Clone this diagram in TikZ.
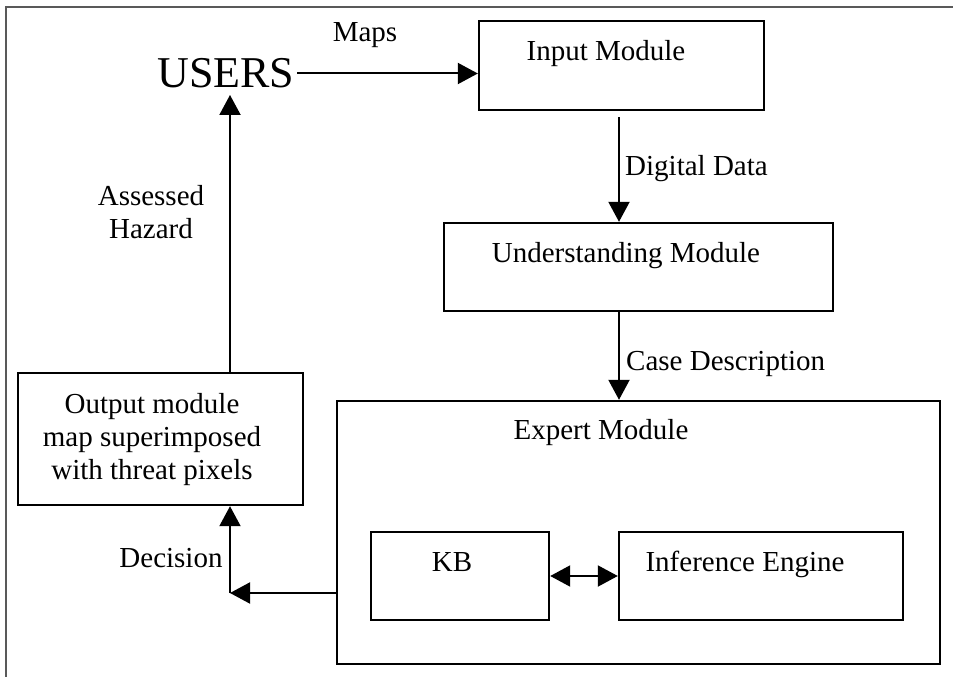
\documentclass[tikz,border=0pt]{standalone}
\usepackage{fontspec}
\setmainfont{Liberation Serif}
\usepackage{tikz}
\usetikzlibrary{arrows,arrows.meta,positioning,calc}
\definecolor{framegray}{rgb}{.35,.35,.35}
\tikzstyle{to} = [-{Triangle[length=20pt,width=21pt]},line width=2pt]
\tikzstyle{both} = [{Triangle[length=20pt,width=21pt]}-{Triangle[length=20pt,width=21pt]},line width=2pt]
\tikzstyle{modbox} = [draw,line width=2.4pt,inner sep=0pt]
\tikzstyle{txt} = [anchor=base,inner sep=0pt,font=\fontsize{29}{33}\selectfont]

\begin{document}
\begin{tikzpicture}[x=1pt,y=-1pt]
    \useasboundingbox (0,0) rectangle (953,677);
    \coordinate (Mid) at (619,0);% column of the downward arrows
    \coordinate (Up)  at (230,0);% column of the upward arrows
    \coordinate (Dec) at (230,593);

    \draw [framegray, line width=1.5pt] (6,677) -- (6,7) -- (953,7);% screenshot edge

    % the modules
    \node[modbox, minimum width=285, minimum height=89]  (inp) at (621.5,65.5) {};
    \node[modbox, minimum width=389, minimum height=88]  (und) at (638.5,267) {};
    \node[modbox, minimum width=603, minimum height=263] (exp) at (638.5,532.5) {};
    \node[modbox, minimum width=178, minimum height=88]  (kb)  at (460,576) {};
    \node[modbox, minimum width=284, minimum height=88]  (inf) at (761,576) {};
    \node[modbox, minimum width=285, minimum height=132] (out) at (160.5,439) {};

    % their texts
    \node[inner sep=2.5pt, font=\fontsize{44}{48}\selectfont] (users) at (226,73.5) {USERS};
    \node[txt] (inptxt) at (606,61) {Input Module};
    \node[txt] (undtxt) at (626,262) {Understanding Module};
    \node[txt] (exptxt) at (601,439) {Expert Module};
    \node[txt] (kbtxt)  at (452,571) {KB};
    \node[txt] (inftxt) at (745,571) {Inference Engine};
    \node[txt, anchor=center, align=center] (outtxt) at (152,440)
        {Output module\\map superimposed\\with threat pixels};

    % labels of the arrows
    \node[txt] (maps) at (365,42) {Maps};
    \node[txt, anchor=base west] (digital) at (625,175) {Digital Data};
    \node[txt, anchor=base west] (case) at (626,370) {Case Description};
    \node[txt, anchor=center, align=center] (hazard) at (151,212) {Assessed\\Hazard};
    \node[txt] (decision) at (171,567) {Decision};

    % arrows
    \draw [to] (users.east) -- (users.east -| inp.west);
    \draw [to, shorten <=6pt] (inp.south -| Mid) -- (und.north -| Mid);
    \draw [to] (und.south -| Mid) -- (exp.north -| Mid);
    \draw [to] (exp.west |- Dec) -- (Dec);
    \draw [to] (Dec) -- (out.south -| Dec);
    \draw [to, shorten >=4pt] (out.north -| Up) -- (users.south -| Up);
    \draw [both] (kb) -- (inf);
\end{tikzpicture}
\end{document}
